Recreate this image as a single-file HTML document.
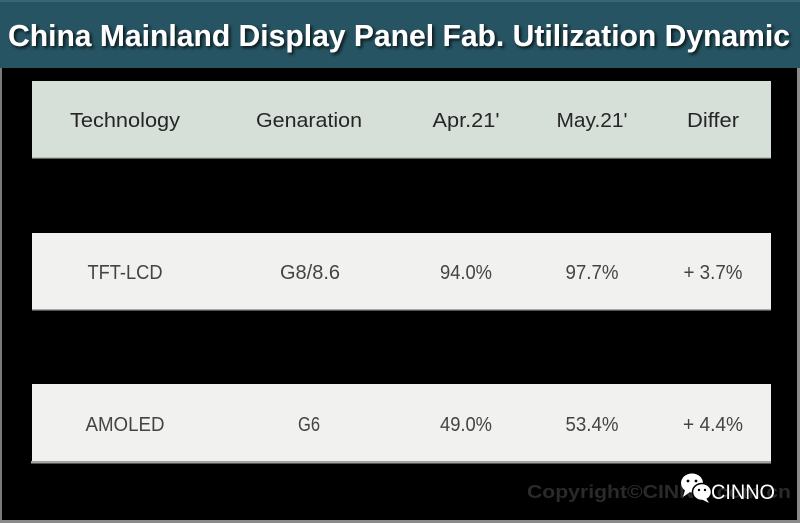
<!DOCTYPE html>
<html>
<head>
<meta charset="utf-8">
<style>
html,body{margin:0;padding:0;background:#000;}
svg{display:block;}
</style>
</head>
<body>
<svg width="800" height="523" viewBox="0 0 800 523" xmlns="http://www.w3.org/2000/svg">
  <defs>
    <filter id="sh" x="-5%" y="-30%" width="110%" height="160%">
      <feDropShadow dx="2" dy="2" stdDeviation="1.5" flood-color="#000" flood-opacity="0.75"/>
    </filter>
  </defs>
  <rect x="0" y="0" width="800" height="523" fill="#000"/>
  <!-- outer gray border -->
  <rect x="0" y="66" width="2" height="457" fill="#7a7a7a"/>
  <rect x="797" y="66" width="3" height="457" fill="#8a8a8a"/>
  <rect x="0" y="520" width="800" height="3" fill="#8a8a8a"/>
  <!-- title bar -->
  <rect x="0" y="0" width="800" height="68" fill="#265462"/>
  <rect x="0" y="0" width="800" height="2" fill="#3a6672"/>
  <text x="8" y="46" font-family="Liberation Sans, sans-serif" font-weight="bold" font-size="31" fill="#fff" textLength="782" lengthAdjust="spacingAndGlyphs" filter="url(#sh)">China Mainland Display Panel Fab. Utilization Dynamic</text>

  <!-- header row -->
  <rect x="32" y="81" width="739" height="77" fill="#d7dfd9"/>
  <rect x="32" y="157" width="739" height="1.5" fill="#b9c0bb"/>
  <g font-family="Liberation Sans, sans-serif" font-size="20" fill="#262626" text-anchor="middle">
    <text x="125" y="127" textLength="110" lengthAdjust="spacingAndGlyphs">Technology</text>
    <text x="309" y="127" textLength="106" lengthAdjust="spacingAndGlyphs">Genaration</text>
    <text x="466" y="127" textLength="67" lengthAdjust="spacingAndGlyphs">Apr.21'</text>
    <text x="592" y="127" textLength="71" lengthAdjust="spacingAndGlyphs">May.21'</text>
    <text x="713" y="127" textLength="52" lengthAdjust="spacingAndGlyphs">Differ</text>
  </g>

  <!-- TFT row -->
  <rect x="32" y="233" width="739" height="77" fill="#f1f2f0"/>
  <rect x="32" y="309" width="739" height="1.5" fill="#a9aaa8"/>
  <!-- AMOLED row -->
  <rect x="32" y="384" width="739" height="78" fill="#f1f2f0"/>
  <rect x="31" y="461" width="740" height="2.5" fill="#a5a6a4"/>

  <g font-family="Liberation Sans, sans-serif" font-size="20" fill="#444" text-anchor="middle">
    <text x="125" y="279" textLength="75" lengthAdjust="spacingAndGlyphs">TFT-LCD</text>
    <text x="310" y="279" textLength="60" lengthAdjust="spacingAndGlyphs">G8/8.6</text>
    <text x="466" y="279" textLength="52" lengthAdjust="spacingAndGlyphs">94.0%</text>
    <text x="592" y="279" textLength="53" lengthAdjust="spacingAndGlyphs">97.7%</text>
    <text x="713" y="279" textLength="59" lengthAdjust="spacingAndGlyphs">+ 3.7%</text>

    <text x="125" y="431" textLength="79" lengthAdjust="spacingAndGlyphs">AMOLED</text>
    <text x="309" y="431" textLength="22" lengthAdjust="spacingAndGlyphs">G6</text>
    <text x="466" y="431" textLength="52" lengthAdjust="spacingAndGlyphs">49.0%</text>
    <text x="592" y="431" textLength="53" lengthAdjust="spacingAndGlyphs">53.4%</text>
    <text x="713" y="431" textLength="60" lengthAdjust="spacingAndGlyphs">+ 4.4%</text>
  </g>

  <!-- watermark -->
  <text x="527" y="498" font-family="Liberation Sans, sans-serif" font-weight="bold" font-size="18" fill="#2a2a2a" textLength="264" lengthAdjust="spacingAndGlyphs">Copyright©CINNO.com.cn</text>
  <!-- wechat icon -->
  <g fill="#fff">
    <ellipse cx="692" cy="483" rx="11" ry="9.5"/>
    <path d="M685 490 L683 497 L690 492 Z"/>
    <ellipse cx="702" cy="492" rx="9.5" ry="8.5" stroke="#000" stroke-width="1.5"/>
    <path d="M706 498 L709 503 L701 499 Z"/>
  </g>
  <g fill="#000">
    <circle cx="688" cy="481" r="1.4"/>
    <circle cx="696" cy="481" r="1.4"/>
    <circle cx="699" cy="490" r="1.2"/>
    <circle cx="705" cy="490" r="1.2"/>
  </g>
  <text x="711" y="499" font-family="Liberation Sans, sans-serif" font-size="21" fill="#fff" textLength="64" lengthAdjust="spacingAndGlyphs">CINNO</text>
</svg>
</body>
</html>
